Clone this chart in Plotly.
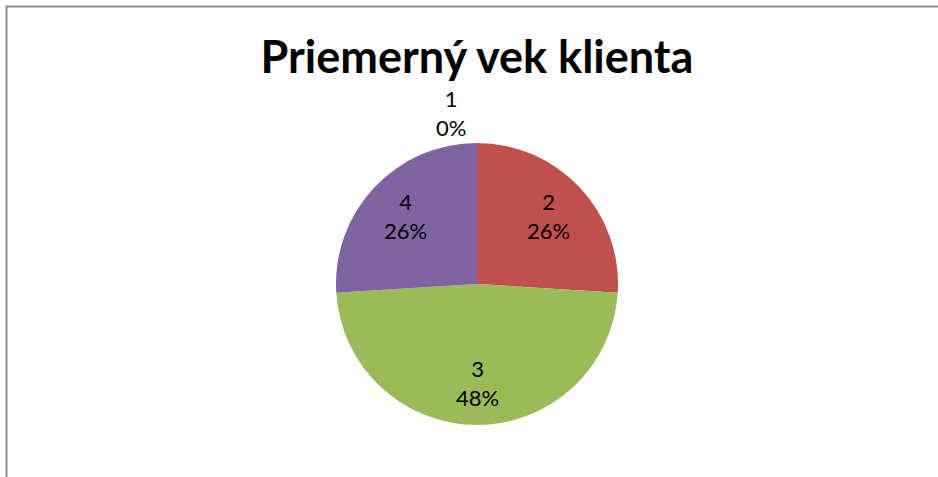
import math
import plotly.graph_objects as go

categories = ["1", "2", "3", "4"]
values = [0, 26, 48, 26]
colors = ["#4F81BD", "#C0504D", "#9BBB59", "#8064A2"]
title_text = "Priemerný vek klienta"

W, H = 938, 477
cx, cy, r = 477, 284, 141  # pie centre / radius in pixels

fig = go.Figure(go.Pie(
    labels=categories,
    values=values,
    sort=False,
    direction="clockwise",
    rotation=0,
    marker=dict(colors=colors, line=dict(width=0)),
    textinfo="none",
    showlegend=False,
    domain=dict(x=[(cx - r) / W, (cx + r) / W], y=[1 - (cy + r) / H, 1 - (cy - r) / H]),
    hoverinfo="label+percent",
))

# data labels placed at each slice's mid-angle
total = sum(values)
annotations = []
cum = 0
for lab, v in zip(categories, values):
    frac = v / total
    mid = (cum + frac / 2) * 2 * math.pi
    cum += frac
    if v == 0:
        rad, xs = 1.21 * r, -26
    else:
        rad, xs = 0.70 * r, 0
    px = cx + rad * math.sin(mid) + xs
    py = cy - rad * math.cos(mid)
    annotations.append(dict(
        x=px / W, y=1 - py / H, xref="paper", yref="paper",
        xanchor="center", yanchor="middle", showarrow=False,
        text=f"{lab}<br>{round(frac * 100)}%",
        font=dict(family="Lato", size=22, color="black"),
    ))

fig.update_layout(
    width=W, height=H,
    margin=dict(l=0, r=0, t=0, b=0),
    paper_bgcolor="white",
    font=dict(family="Lato", color="black"),
    title=dict(text="<b>" + title_text + "</b>", x=477 / W, xanchor="center",
               y=1 - 57 / H, yanchor="middle", font=dict(family="Lato", size=45, color="black")),
    annotations=annotations,
    shapes=[dict(type="rect", xref="paper", yref="paper",
                 x0=6.5 / W, x1=1.1, y0=-0.1, y1=1 - 6.5 / H,
                 line=dict(color="#8c8c8c", width=2), fillcolor="rgba(0,0,0,0)")],
)

fig.write_html(
    "out.html",
    config={"displayModeBar": False},
    post_script="document.body.style.margin='0';document.body.style.overflow='hidden';",
)
